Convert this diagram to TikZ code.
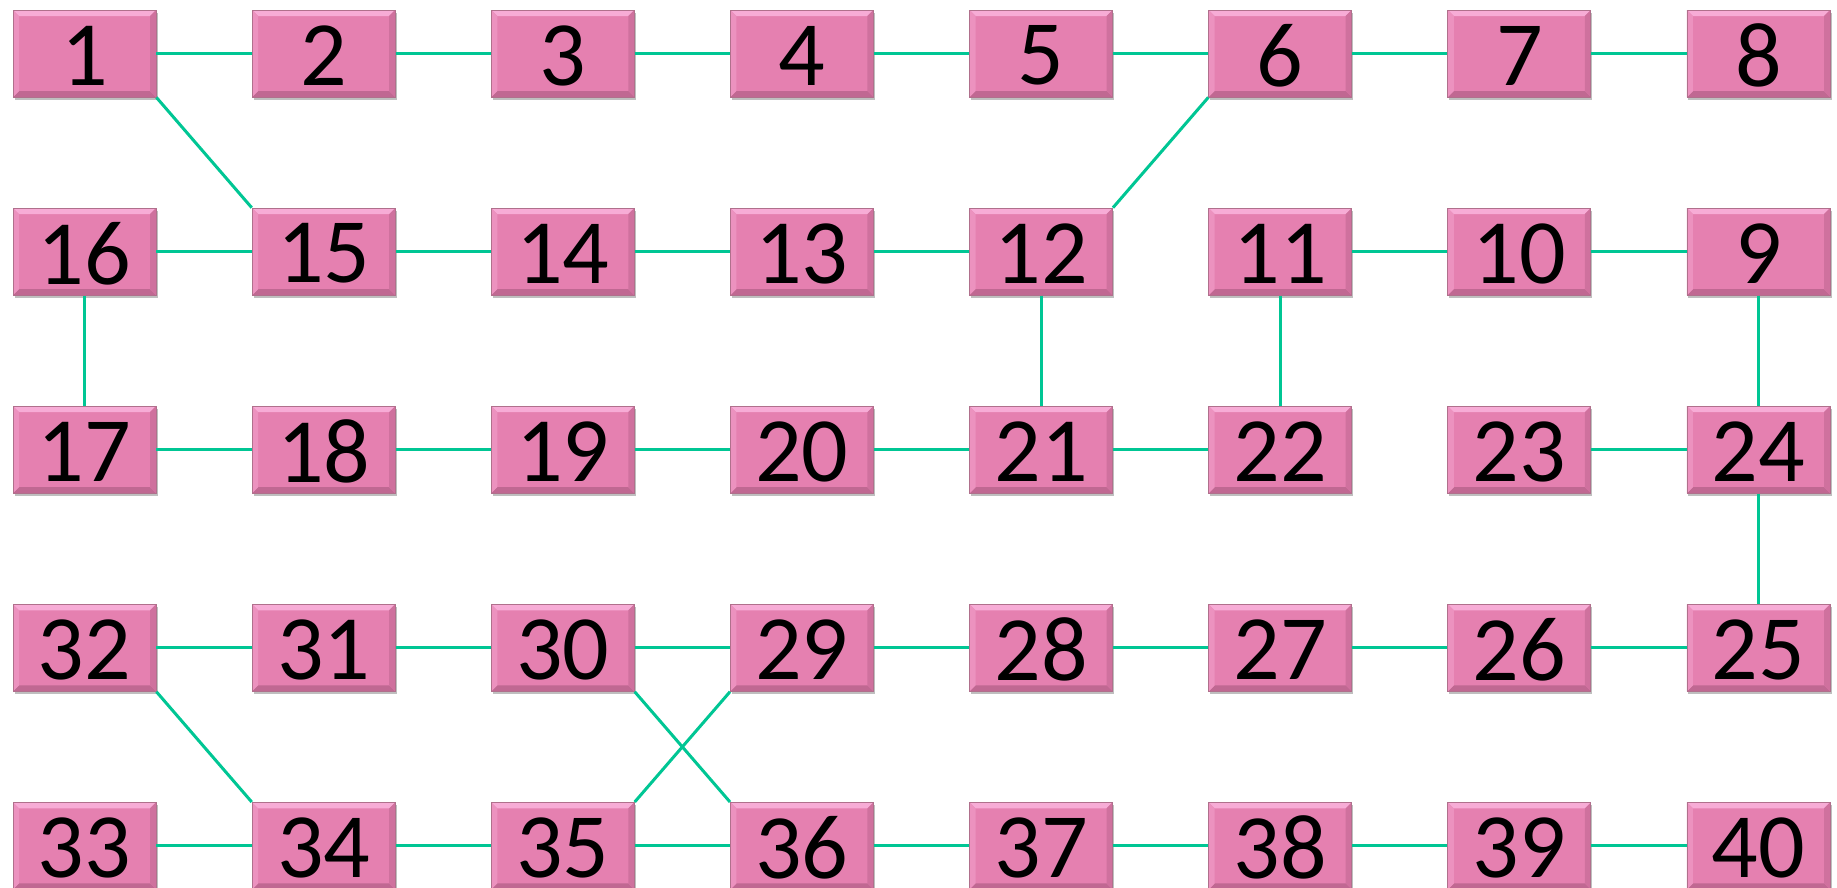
\documentclass[tikz,border=0pt]{standalone}
\usepackage{fontspec}
\setmainfont{Carlito}
\usetikzlibrary{shadows}
\definecolor{boxpink}{RGB}{229,128,176}
\definecolor{boxlight}{RGB}{247,172,214}
\definecolor{boxdark}{RGB}{192,104,146}
\definecolor{boxedge}{RGB}{176,112,140}
\definecolor{linkgreen}{RGB}{0,198,148}
\begin{document}
\begin{tikzpicture}[x=1pt,y=-1pt,
  cell/.style={rectangle, minimum width=143pt, minimum height=87pt, inner sep=0pt,
    fill=boxpink, draw=boxedge, line width=0.8pt,
    font=\fontsize{92}{92}\selectfont,
    drop shadow={shadow xshift=1.5pt, shadow yshift=-3pt, opacity=0.25, fill=black},
    path picture={
      \fill[boxlight] (path picture bounding box.north west) -- (path picture bounding box.north east)
        -- ([xshift=-6pt,yshift=-6pt]path picture bounding box.north east)
        -- ([xshift=6pt,yshift=-6pt]path picture bounding box.north west) -- cycle;
      \fill[boxdark] (path picture bounding box.south west) -- (path picture bounding box.south east)
        -- ([xshift=-6pt,yshift=6pt]path picture bounding box.south east)
        -- ([xshift=6pt,yshift=6pt]path picture bounding box.south west) -- cycle;
      \fill[boxdark!60!boxpink] (path picture bounding box.north east) -- (path picture bounding box.south east)
        -- ([xshift=-6pt,yshift=6pt]path picture bounding box.south east)
        -- ([xshift=-6pt,yshift=-6pt]path picture bounding box.north east) -- cycle;
      \fill[boxlight!40!boxpink] (path picture bounding box.north west) -- (path picture bounding box.south west)
        -- ([xshift=6pt,yshift=6pt]path picture bounding box.south west)
        -- ([xshift=6pt,yshift=-6pt]path picture bounding box.north west) -- cycle;
    }},
  label/.style={inner sep=0pt, font=\fontsize{92}{92}\selectfont, yshift=-2pt},
  link/.style={draw=linkgreen, line width=3pt}]
\useasboundingbox (0,0) rectangle (1837,887);
\fill[white] (0,0) rectangle (1837,887);
\foreach \r [count=\j from 0] in {{1,2,3,4,5,6,7,8},{16,15,14,13,12,11,10,9},{17,18,19,20,21,22,23,24},{32,31,30,29,28,27,26,25},{33,34,35,36,37,38,39,40}}{
  \foreach \n [count=\i from 0] in \r {
    \node[cell] (n\n) at ({84.5+239.14*\i},{53.5+198.1*\j}) {};
    \node[label] (t\n) at (n\n.center) {\n};
  }
}
\foreach \a/\b in {1/2,2/3,3/4,4/5,5/6,6/7,7/8,16/15,15/14,14/13,13/12,11/10,10/9,17/18,18/19,19/20,20/21,21/22,23/24,32/31,31/30,30/29,29/28,28/27,27/26,26/25,33/34,34/35,35/36,36/37,37/38,38/39,39/40}
  \draw[link] (n\a.east) -- (n\b.west);
\foreach \a/\b in {16/17,12/21,11/22,9/24,24/25}
  \draw[link] (n\a.south) -- (n\b.north);
\foreach \a/\b in {1/15,32/34,30/36}
  \draw[link] (n\a.south east) -- (n\b.north west);
\foreach \a/\b in {6/12,29/35}
  \draw[link] (n\a.south west) -- (n\b.north east);
\end{tikzpicture}
\end{document}
